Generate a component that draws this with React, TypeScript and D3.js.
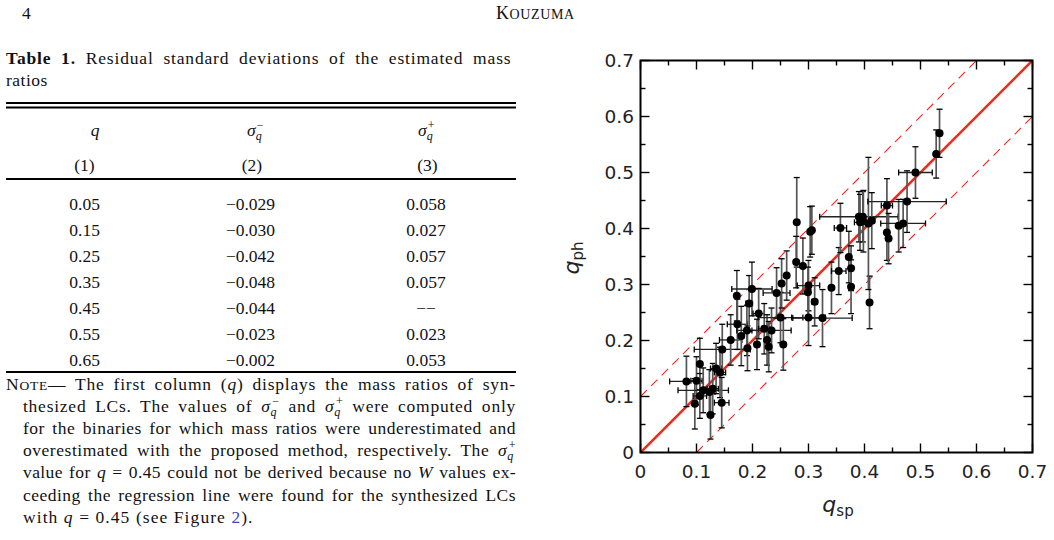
import React, { useLayoutEffect, useRef } from "react";
import * as d3 from "d3";

// ---------- plot data ----------
const qsp = [0.082,0.097,0.100,0.106,0.106,0.112,0.123,0.125,0.129,0.135,0.142,0.145,0.146,0.161,0.172,0.173,0.180,0.190,0.191,0.194,0.199,0.208,0.211,0.221,0.226,0.229,0.234,0.243,0.250,0.252,0.255,0.261,0.279,0.278,0.290,0.300,0.299,0.300,0.303,0.306,0.311,0.325,0.341,0.354,0.357,0.372,0.376,0.376,0.390,0.392,0.397,0.398,0.409,0.407,0.413,0.440,0.440,0.443,0.461,0.469,0.476,0.491,0.528,0.534];
const qph = [0.127,0.087,0.128,0.158,0.101,0.111,0.108,0.067,0.114,0.150,0.143,0.089,0.184,0.201,0.280,0.229,0.208,0.218,0.186,0.266,0.292,0.193,0.248,0.221,0.201,0.189,0.218,0.285,0.241,0.302,0.193,0.316,0.411,0.340,0.333,0.298,0.286,0.241,0.394,0.397,0.269,0.240,0.294,0.324,0.401,0.349,0.329,0.296,0.421,0.411,0.421,0.413,0.268,0.409,0.414,0.441,0.393,0.382,0.405,0.409,0.448,0.500,0.533,0.570];
const qspErr = [0.030,0,0.010,0,0.012,0.045,0.010,0,0.010,0.010,0.010,0.013,0.050,0.020,0,0.018,0,0.018,0,0.006,0.036,0,0.010,0.010,0,0,0.035,0.024,0.040,0,0,0,0,0,0,0.020,0,0.030,0,0,0.005,0.053,0,0.013,0.011,0,0,0,0.070,0.010,0,0,0,0,0.005,0.010,0,0,0,0.040,0.070,0.030,0,0];
const qphErr = [0.045,0.045,0.043,0.046,0.040,0.040,0.040,0.043,0.045,0.045,0.045,0.045,0.045,0.045,0.045,0.045,0.053,0.045,0.040,0.050,0.048,0.045,0.045,0.045,0.045,0.045,0.040,0.045,0.045,0.044,0.046,0.044,0.080,0.046,0.050,0.045,0.045,0.050,0.045,0.043,0.043,0.051,0.046,0.042,0.044,0.046,0.040,0.048,0.045,0.050,0.045,0.055,0.047,0.118,0.050,0.048,0.050,0.045,0.047,0.043,0.055,0.046,0.043,0.043];

const majorTicks = [0, 0.1, 0.2, 0.3, 0.4, 0.5, 0.6, 0.7];
const minorTicks = [0.05, 0.15, 0.25, 0.35, 0.45, 0.55, 0.65];
const tickLabels = ["0", "0.1", "0.2", "0.3", "0.4", "0.5", "0.6", "0.7"];
const refOffsets = [0, 0.1, -0.1];

// ---------- table data ----------
const tableQ = ["0.05", "0.15", "0.25", "0.35", "0.45", "0.55", "0.65"];
const tableSigmaMinus = ["\u22120.029", "\u22120.030", "\u22120.042", "\u22120.048", "\u22120.044", "\u22120.023", "\u22120.002"];
const tableSigmaPlus = ["0.058", "0.027", "0.057", "0.057", "\u2212\u2212", "0.023", "0.053"];

const SERIF = "'Liberation Serif', 'DejaVu Serif', serif";
const SANS = "'DejaVu Sans', sans-serif";
const FS = 17.5;

function JText({ x, y, width, children, fontSize = FS, share = 0.55 }: any) {
  const ref = useRef<SVGTextElement>(null);
  useLayoutEffect(() => {
    const el = ref.current;
    if (!el || !width) return;
    el.style.wordSpacing = "0px";
    el.style.letterSpacing = "0px";
    const w = el.getBBox().width;
    const txt = el.textContent || "";
    const n = (txt.match(/ /g) || []).length;
    const extra = width - w;
    if (extra <= 0) return;
    const ls = (extra * share) / txt.length;
    el.style.letterSpacing = ls + "px";
    const w2 = el.getBBox().width;
    if (n > 0) el.style.wordSpacing = (width - w2) / n + "px";
  }, [width]);
  return (
    <text ref={ref} x={x} y={y} fontFamily={SERIF} fontSize={fontSize} fill="#111">
      {children}
    </text>
  );
}

function SigmaHead({ x, y, sign }: any) {
  return (
    <text x={x} y={y} fontFamily={SERIF} fontSize={FS} fill="#111">
      <tspan fontStyle="italic">σ</tspan>
      <tspan fontStyle="italic" fontSize={12} dy={4}>q</tspan>
      <tspan fontSize={12} dx={-5} dy={-11}>{sign}</tspan>
    </text>
  );
}

export default function App() {
  const X0 = 640.5, X1 = 1032.5, Y0 = 452.5, Y1 = 60.5;
  const x = d3.scaleLinear().domain([0, 0.7]).range([X0, X1]);
  const y = d3.scaleLinear().domain([0, 0.7]).range([Y0, Y1]);
  const red = "#ee2a1c";

  const refLines = refOffsets.map((o) => {
    const xa = Math.max(0, -o), xb = Math.min(0.7, 0.7 - o);
    return { o, x1: x(xa), y1: y(xa + o), x2: x(xb), y2: y(xb + o) };
  });

  const pts = qsp.map((v, i) => ({ xs: v, ys: qph[i], xe: qspErr[i], ye: qphErr[i] }));
  const cap = 3;

  const rowY = tableQ.map((_, i) => 210.4 + i * 26);
  const L = 6, R = 516, IND = 23;

  return (
    <svg width={1054} height={540} style={{ position: "absolute", left: 0, top: 0, background: "#fff" }}>
      {/* page header */}
      <text x={22} y={19} fontFamily={SERIF} fontSize={FS} fill="#111">4</text>
      <text x={496} y={19} fontFamily={SERIF} fontSize={18} fill="#111" letterSpacing={0.6}>
        K<tspan fontSize={14}>OUZUMA</tspan>
      </text>

      {/* table caption */}
      <JText x={L} y={64} width={R - L}>
        <tspan fontWeight="bold">Table 1.</tspan>{"  "}Residual standard deviations of the estimated mass
      </JText>
      <text x={L} y={86} fontFamily={SERIF} fontSize={FS} fill="#111" letterSpacing={0.5}>ratios</text>

      {/* rules */}
      <line x1={L} x2={R} y1={103} y2={103} stroke="#000" strokeWidth={2} />
      <line x1={L} x2={R} y1={107.5} y2={107.5} stroke="#000" strokeWidth={2} />
      <line x1={L} x2={R} y1={179} y2={179} stroke="#000" strokeWidth={2} />
      <line x1={L} x2={R} y1={372} y2={372} stroke="#000" strokeWidth={2} />

      {/* headers */}
      <text x={95} y={136} fontFamily={SERIF} fontSize={FS} fontStyle="italic" textAnchor="middle" fill="#111">q</text>
      <SigmaHead x={247} y={136} sign={"\u2212"} />
      <SigmaHead x={418} y={136} sign="+" />
      <text x={84.5} y={170.5} fontFamily={SERIF} fontSize={FS} textAnchor="middle" fill="#111">(1)</text>
      <text x={252} y={170.5} fontFamily={SERIF} fontSize={FS} textAnchor="middle" fill="#111">(2)</text>
      <text x={427.5} y={170.5} fontFamily={SERIF} fontSize={FS} textAnchor="middle" fill="#111">(3)</text>

      {/* rows */}
      {tableQ.map((q, i) => (
        <g key={q} fontFamily={SERIF} fontSize={FS} fill="#111">
          <text x={69.3} y={rowY[i]}>{q}</text>
          <text x={250.5} y={rowY[i]} textAnchor="middle">{tableSigmaMinus[i]}</text>
          <text x={426} y={rowY[i]} textAnchor="middle">{tableSigmaPlus[i]}</text>
        </g>
      ))}

      {/* note */}
      <JText x={L} y={390.3} width={R - L}>
        N<tspan fontSize={13.5}>OTE</tspan>— The first column (<tspan fontStyle="italic">q</tspan>) displays the mass ratios of syn-
      </JText>
      <JText x={IND} y={412.3} width={R - IND}>
        thesized LCs. The values of <tspan fontStyle="italic">σ</tspan>
        <tspan fontStyle="italic" fontSize={12} dy={4}>q</tspan>
        <tspan fontSize={12} dx={-5} dy={-11}>{"\u2212"}</tspan>
        <tspan dy={7}> and </tspan>
        <tspan fontStyle="italic">σ</tspan>
        <tspan fontStyle="italic" fontSize={12} dy={4}>q</tspan>
        <tspan fontSize={12} dx={-5} dy={-11}>+</tspan>
        <tspan dy={7}> were computed only</tspan>
      </JText>
      <JText x={IND} y={434.3} width={R - IND}>
        for the binaries for which mass ratios were underestimated and
      </JText>
      <JText x={IND} y={456.3} width={R - IND}>
        overestimated with the proposed method, respectively. The <tspan fontStyle="italic">σ</tspan>
        <tspan fontStyle="italic" fontSize={12} dy={4}>q</tspan>
        <tspan fontSize={12} dx={-5} dy={-11}>+</tspan>
      </JText>
      <JText x={IND} y={478.4} width={R - IND}>
        value for <tspan fontStyle="italic">q</tspan> = 0.45 could not be derived because no <tspan fontStyle="italic">W</tspan> values ex-
      </JText>
      <JText x={IND} y={500.5} width={R - IND}>
        ceeding the regression line were found for the synthesized LCs
      </JText>
      <JText x={IND} y={522.6} width={253.6 - IND} share={1}>
        with <tspan fontStyle="italic">q</tspan> = 0.45 (see Figure <tspan fill="#3b48a8">2</tspan>).
      </JText>

      {/* ---------- plot ---------- */}
      <defs>
        <clipPath id="plotclip">
          <rect x={X0} y={Y1} width={X1 - X0} height={Y0 - Y1} />
        </clipPath>
      </defs>

      <g clipPath="url(#plotclip)">
        {refLines.map((l) => (
          <line
            key={l.o}
            x1={l.x1} y1={l.y1} x2={l.x2} y2={l.y2}
            stroke={red}
            strokeWidth={l.o === 0 ? 2.6 : 1.1}
            strokeDasharray={l.o === 0 ? undefined : "9 6"}
          />
        ))}
      </g>

      {/* error bars */}
      <g>
        {pts.map((p, i) => (
          <g key={i}>
            <line x1={x(p.xs)} x2={x(p.xs)} y1={y(p.ys - p.ye)} y2={y(p.ys + p.ye)} stroke="#555" strokeWidth={1.7} />
            <line x1={x(p.xs) - cap} x2={x(p.xs) + cap} y1={y(p.ys - p.ye)} y2={y(p.ys - p.ye)} stroke="#000" strokeWidth={1.3} />
            <line x1={x(p.xs) - cap} x2={x(p.xs) + cap} y1={y(p.ys + p.ye)} y2={y(p.ys + p.ye)} stroke="#000" strokeWidth={1.3} />
            {p.xe > 0 && (
              <g>
                <line x1={x(p.xs - p.xe)} x2={x(p.xs + p.xe)} y1={y(p.ys)} y2={y(p.ys)} stroke="#222" strokeWidth={1.3} />
                <line x1={x(p.xs - p.xe)} x2={x(p.xs - p.xe)} y1={y(p.ys) - cap} y2={y(p.ys) + cap} stroke="#000" strokeWidth={1.3} />
                <line x1={x(p.xs + p.xe)} x2={x(p.xs + p.xe)} y1={y(p.ys) - cap} y2={y(p.ys) + cap} stroke="#000" strokeWidth={1.3} />
              </g>
            )}
          </g>
        ))}
      </g>

      {/* points */}
      {pts.map((p, i) => (
        <circle key={i} cx={x(p.xs)} cy={y(p.ys)} r={4} fill="#000" />
      ))}

      {/* frame */}
      <rect x={X0} y={Y1} width={X1 - X0} height={Y0 - Y1} fill="none" stroke="#000" strokeWidth={2} />

      {/* ticks */}
      <g stroke="#000" strokeWidth={1.4}>
        {majorTicks.map((t) => (
          <g key={"M" + t}>
            <line x1={x(t)} x2={x(t)} y1={Y0} y2={Y0 - 9} />
            <line x1={x(t)} x2={x(t)} y1={Y1} y2={Y1 + 9} />
            <line x1={X0} x2={X0 + 9} y1={y(t)} y2={y(t)} />
            <line x1={X1} x2={X1 - 9} y1={y(t)} y2={y(t)} />
          </g>
        ))}
        {minorTicks.map((t) => (
          <g key={"m" + t}>
            <line x1={x(t)} x2={x(t)} y1={Y0} y2={Y0 - 5} />
            <line x1={x(t)} x2={x(t)} y1={Y1} y2={Y1 + 5} />
            <line x1={X0} x2={X0 + 5} y1={y(t)} y2={y(t)} />
            <line x1={X1} x2={X1 - 5} y1={y(t)} y2={y(t)} />
          </g>
        ))}
      </g>

      {/* tick labels */}
      <g fontFamily={SANS} fontSize={18.5} fill="#222">
        {majorTicks.map((t, i) => (
          <text key={"xl" + t} x={x(t)} y={478} textAnchor="middle">{tickLabels[i]}</text>
        ))}
        {majorTicks.map((t, i) => (
          <text key={"yl" + t} x={634} y={y(t) + 6.7} textAnchor="end">{tickLabels[i]}</text>
        ))}
      </g>

      {/* axis titles */}
      <text x={838} y={512} fontFamily={SANS} fontSize={22} fill="#222" textAnchor="middle">
        <tspan fontStyle="italic">q</tspan>
        <tspan fontSize={15} dy={4}>sp</tspan>
      </text>
      <text transform="translate(579,258) rotate(-90)" fontFamily={SANS} fontSize={22} fill="#222" textAnchor="middle">
        <tspan fontStyle="italic">q</tspan>
        <tspan fontSize={15} dy={4}>ph</tspan>
      </text>
    </svg>
  );
}
